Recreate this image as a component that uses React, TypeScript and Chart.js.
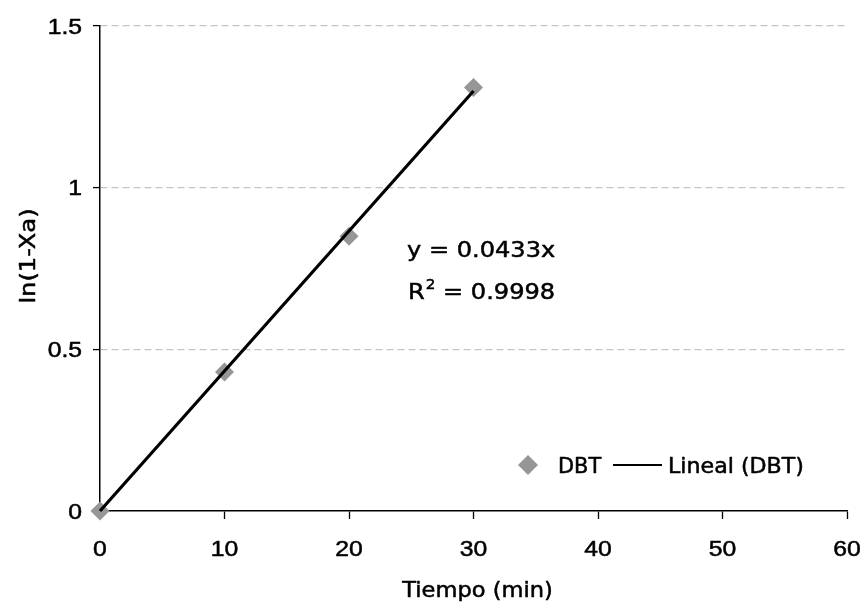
import React, { useEffect, useRef } from "react";
import { Chart, registerables } from "chart.js";

Chart.register(...registerables);

// Measured conversion: time (min) vs ln(1-Xa)
const minutes = [0, 10, 20, 30];
const lnValues = [0, 0.43, 0.85, 1.31];

// Linear fit through the origin, as reported on the chart
const slope = 0.0433;
const rSquared = 0.9998;

const xTickValues = [0, 10, 20, 30, 40, 50, 60];
const yTickValues = [0, 0.5, 1, 1.5];

const seriesLabel = "DBT";
const fitLabel = "Lineal (DBT)";
const xTitle = "Tiempo (min)";
const yTitle = "ln(1-Xa)";

const TICK_FONT = '21.5px "Liberation Sans", Arial, sans-serif';
const TEXT_FAMILY = '"DejaVu Sans", Verdana, sans-serif';

// Draws text with a horizontal stretch and a light outline for weight; returns drawn width
function stretchedText(
  ctx: CanvasRenderingContext2D,
  text: string,
  x: number,
  baseline: number,
  font: string,
  sx: number,
  align: "left" | "center" | "right"
): number {
  ctx.save();
  ctx.font = font;
  ctx.textAlign = "left";
  ctx.textBaseline = "alphabetic";
  const w = ctx.measureText(text).width * sx;
  const left = align === "left" ? x : align === "center" ? x - w / 2 : x - w;
  ctx.translate(left, baseline);
  ctx.scale(sx, 1);
  ctx.fillStyle = "#000";
  ctx.strokeStyle = "#000";
  ctx.lineWidth = 0.5;
  ctx.lineJoin = "round";
  ctx.fillText(text, 0, 0);
  ctx.strokeText(text, 0, 0);
  ctx.restore();
  return w;
}

function diamond(ctx: CanvasRenderingContext2D, cx: number, cy: number, r: number, color: string) {
  ctx.save();
  ctx.fillStyle = color;
  ctx.beginPath();
  ctx.moveTo(cx, cy - r);
  ctx.lineTo(cx + r, cy);
  ctx.lineTo(cx, cy + r);
  ctx.lineTo(cx - r, cy);
  ctx.closePath();
  ctx.fill();
  ctx.restore();
}

const textPlugin = {
  id: "chartText",
  afterDraw(chart: any) {
    const ctx: CanvasRenderingContext2D = chart.ctx;
    const xs = chart.scales.x;
    const ys = chart.scales.y;
    const area = chart.chartArea;

    // tick labels
    xs.ticks.forEach((t: any) => {
      const px = xs.getPixelForValue(t.value);
      stretchedText(ctx, String(t.value), px, area.bottom + 44.5, TICK_FONT, 1.15, "center");
    });
    ys.ticks.forEach((t: any) => {
      const py = ys.getPixelForValue(t.value);
      stretchedText(ctx, String(t.value), area.left - 18, py + 7.7, TICK_FONT, 1.15, "right");
    });

    // axis titles
    stretchedText(ctx, xTitle, (area.left + area.right) / 2 + 4, 597, `20.5px ${TEXT_FAMILY}`, 1.1, "center");
    ctx.save();
    ctx.translate(35, 256);
    ctx.rotate(-Math.PI / 2);
    stretchedText(ctx, yTitle, 0, 0, `20.5px ${TEXT_FAMILY}`, 1.18, "center");
    ctx.restore();

    // regression annotation
    const eqFont = `21.5px ${TEXT_FAMILY}`;
    const ax = 407;
    stretchedText(ctx, `y = ${slope}x`, ax, 257, eqFont, 1.12, "left");
    const rw = stretchedText(ctx, "R", ax + 1, 299, eqFont, 1.12, "left");
    const sw = stretchedText(ctx, "2", ax + 1 + rw + 1, 289, `13.5px ${TEXT_FAMILY}`, 1.12, "left");
    stretchedText(ctx, ` = ${rSquared}`, ax + 1 + rw + 1 + sw, 299, eqFont, 1.12, "left");

    // legend
    const ds = chart.data.datasets;
    const ly = 465;
    diamond(ctx, 528, ly, 10, ds[0].backgroundColor);
    const legendFont = `20.5px ${TEXT_FAMILY}`;
    stretchedText(ctx, ds[0].label, 558, ly + 7.5, legendFont, 1.02, "left");
    ctx.save();
    ctx.strokeStyle = ds[1].borderColor;
    ctx.lineWidth = 2;
    ctx.beginPath();
    ctx.moveTo(613, ly);
    ctx.lineTo(662, ly);
    ctx.stroke();
    ctx.restore();
    stretchedText(ctx, ds[1].label, 668, ly + 7.5, legendFont, 1.08, "left");
  },
};

export default function App() {
  const canvasRef = useRef<HTMLCanvasElement | null>(null);

  useEffect(() => {
    if (!canvasRef.current) return;
    const xMin = Math.min(...minutes);
    const xMax = Math.max(...minutes);
    const chart = new Chart(canvasRef.current, {
      type: "scatter",
      data: {
        datasets: [
          {
            label: seriesLabel,
            data: minutes.map((m, i) => ({ x: m, y: lnValues[i] })),
            backgroundColor: "#969696",
            borderColor: "#969696",
            borderWidth: 0,
            pointStyle: "rectRot",
            pointRadius: 9.5,
            pointHoverRadius: 9.5,
            showLine: false,
            order: 2,
            clip: false,
          } as any,
          {
            type: "line",
            label: fitLabel,
            data: [
              { x: xMin, y: slope * xMin },
              { x: xMax, y: slope * xMax },
            ],
            borderColor: "#000000",
            backgroundColor: "#000000",
            borderWidth: 3.2,
            pointRadius: 0,
            fill: false,
            order: 1,
            clip: false,
          } as any,
        ],
      },
      options: {
        animation: false,
        responsive: true,
        maintainAspectRatio: false,
        layout: { padding: { top: 26, right: 15, left: 0, bottom: 0 } },
        plugins: {
          legend: { display: false },
          tooltip: { enabled: false },
        },
        scales: {
          x: {
            type: "linear",
            min: 0,
            max: 60,
            afterBuildTicks: (s: any) => {
              s.ticks = xTickValues.map((v) => ({ value: v }));
            },
            afterFit: (s: any) => {
              s.height = 93;
            },
            ticks: { display: false },
            grid: {
              drawOnChartArea: false,
              drawTicks: true,
              tickLength: 8,
              tickColor: "#000",
              tickWidth: 1.3,
            },
            border: { color: "#000", width: 1.5 },
          },
          y: {
            type: "linear",
            min: 0,
            max: 1.5,
            afterBuildTicks: (s: any) => {
              s.ticks = yTickValues.map((v) => ({ value: v }));
            },
            afterFit: (s: any) => {
              s.width = 100;
            },
            ticks: { display: false },
            grid: {
              color: (c: any) => (c.tick && c.tick.value === 0 ? "rgba(0,0,0,0)" : "#c4c4c4"),
              lineWidth: 1.2,
              drawTicks: true,
              tickLength: 7,
              tickColor: "#000",
              tickWidth: 1.3,
              tickBorderDash: [],
            },
            border: { color: "#000", width: 1.5, dash: [7, 4] },
          },
        },
      },
      plugins: [textPlugin],
    });
    return () => chart.destroy();
  }, []);

  return (
    <div style={{ position: "absolute", left: 0, top: 0, width: 862, height: 604, background: "#fff" }}>
      <canvas ref={canvasRef} />
    </div>
  );
}
